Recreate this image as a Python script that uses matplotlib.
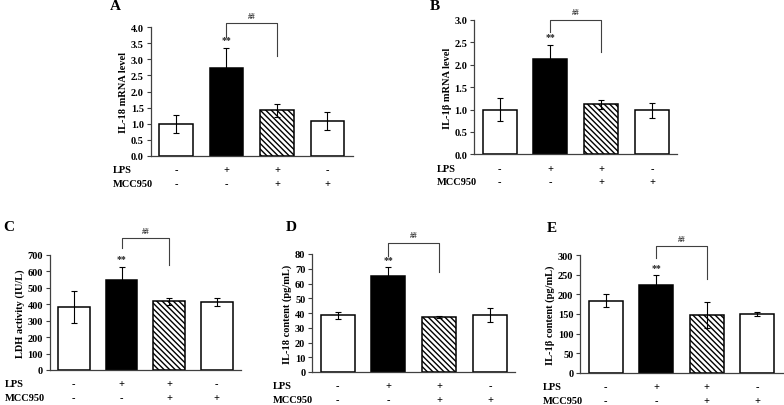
import numpy as np
import matplotlib
matplotlib.use("Agg")
import matplotlib.pyplot as plt

plt.rcParams['font.family'] = ['Liberation Serif', 'DejaVu Serif']
plt.rcParams['font.weight'] = 'bold'
plt.rcParams['hatch.linewidth'] = 1.0

W, H = 784, 406

# --- data ---
groups = ["1", "2", "3", "4"]
lps_signs = ["-", "+", "+", "-"]
mcc_signs = ["-", "-", "+", "+"]

il18_mrna = [1.0, 2.72, 1.42, 1.08]
il18_mrna_err = [0.28, 0.63, 0.20, 0.28]
il1b_mrna = [1.0, 2.12, 1.12, 0.98]
il1b_mrna_err = [0.25, 0.33, 0.10, 0.16]
ldh = [385, 550, 418, 413]
ldh_err = [97, 80, 20, 25]
il18_content = [38.5, 65.0, 37.5, 38.5]
il18_content_err = [2.5, 6.0, 0.8, 4.8]
il1b_content = [184, 225, 147, 150]
il1b_content_err = [17, 23, 33, 6]

# panel letter, ylabel, values, errors, ymax, ystep, tick format
panels = [
    ("A", "IL-18 mRNA level", il18_mrna, il18_mrna_err, 4.0, 0.5, "{:.1f}"),
    ("B", "IL-1\u03b2 mRNA level", il1b_mrna, il1b_mrna_err, 3.0, 0.5, "{:.1f}"),
    ("C", "LDH activity (IU/L)", ldh, ldh_err, 700, 100, "{:.0f}"),
    ("D", "IL-18 content (pg/mL)", il18_content, il18_content_err, 80, 10, "{:.0f}"),
    ("E", "IL-1\u03b2 content (pg/mL)", il1b_content, il1b_content_err, 300, 50, "{:.0f}"),
]

# axes boxes in pixels: left, right, top, bottom
boxes = [
    (150.7, 352.7, 28.3, 156.7),
    (474.3, 677.3, 21.0, 155.3),
    (50.0, 240.7, 256.0, 371.0),
    (312.3, 515.3, 255.0, 373.0),
    (580.3, 782.7, 256.0, 374.0),
]
# bracket level, left drop, right drop (fraction of ymax)
brackets = [(1.03, 0.925, 0.775), (1.0, 0.91, 0.76), (1.147, 1.06, 0.915),
            (1.096, 0.986, 0.845), (1.073, 0.972, 0.797)]
letter_pos = [(110, 7), (430, 7), (3, 228), (286, 228), (547, 229)]
label_off = [37.7, 37.6, 45, 39.7, 37.3]

fig = plt.figure(figsize=(W / 100, H / 100), dpi=100)
x = np.arange(len(groups))
fills = ["white", "black", "white", "white"]
hatches = [None, None, "\\\\\\\\\\\\", None]
fs = 7.5

for i, (letter, ylabel, vals, errs, ymax, ystep, fmt) in enumerate(panels):
    l, r, t, b = boxes[i]
    ax = fig.add_axes([l / W, (H - b) / H, (r - l) / W, (b - t) / H])
    bars = ax.bar(x, vals, width=0.67, color=fills, edgecolor="black", linewidth=1.1)
    for bar, h in zip(bars, hatches):
        if h:
            bar.set_hatch(h)
    ax.errorbar(x, vals, yerr=errs, fmt="none", ecolor="black", elinewidth=0.8,
                capsize=2, capthick=0.8)
    ax.set_xlim(-0.5, 3.5)
    ax.set_ylim(0, ymax)
    ticks = np.arange(0, ymax + ystep / 2, ystep)
    ax.set_yticks(ticks)
    ax.set_yticklabels([fmt.format(v) for v in ticks], fontsize=fs, fontweight="bold")
    ax.set_xticks([])
    ax.set_ylabel(ylabel, fontsize=fs, fontweight="bold", labelpad=2)
    for s in ("top", "right"):
        ax.spines[s].set_visible(False)
    for s in ("left", "bottom"):
        ax.spines[s].set_color("#404040")
        ax.spines[s].set_linewidth(0.9)
    ax.tick_params(axis="y", direction="out", length=3, width=0.8, color="#404040", pad=2)

    # significance bracket
    lev, ld, rd = brackets[i]
    ax.plot([1, 1, 2, 2], [ld * ymax, lev * ymax, lev * ymax, rd * ymax],
            color="#404040", linewidth=0.8, clip_on=False)
    ax.text(1.5, lev * ymax + 0.03 * ymax, "##", ha="center", va="bottom", fontsize=5.5,
            fontweight="bold", color="#333333", clip_on=False)
    ax.text(1, vals[1] + errs[1] + 0.03 * ymax, "**", ha="center", va="bottom",
            fontsize=7, fontweight="bold", color="#222222")

    # treatment rows
    for xi, sl, sm in zip(x, lps_signs, mcc_signs):
        ax.annotate(sl, (xi, 0), xycoords=("data", "axes fraction"),
                    xytext=(0, -14 * 0.72), textcoords="offset points",
                    ha="center", va="center", fontsize=fs, fontweight="bold")
        ax.annotate(sm, (xi, 0), xycoords=("data", "axes fraction"),
                    xytext=(0, -27.5 * 0.72), textcoords="offset points",
                    ha="center", va="center", fontsize=fs, fontweight="bold")
    for name, dy in (("LPS", 14), ("MCC950", 27.5)):
        ax.annotate(name, (0, 0), xycoords="axes fraction",
                    xytext=(-label_off[i] * 0.72, -dy * 0.72), textcoords="offset points",
                    ha="left", va="center", fontsize=fs, fontweight="bold")

    lx, ly = letter_pos[i]
    fig.text(lx / W, 1 - ly / H, letter, ha="left", va="center", fontsize=11,
             fontweight="bold")

fig.savefig("out.png", dpi=100)
